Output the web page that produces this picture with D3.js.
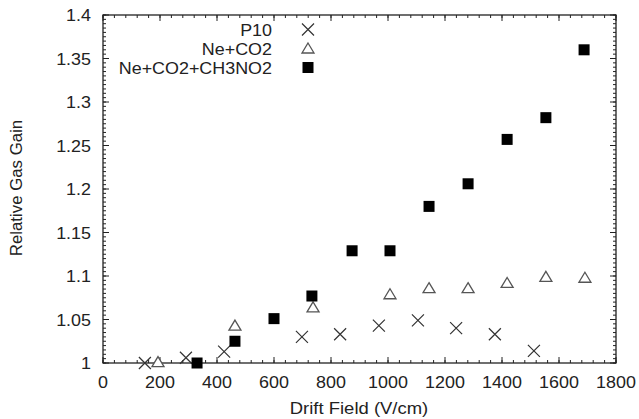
<!DOCTYPE html>
<html>
<head>
<meta charset="utf-8">
<script src="https://cdn.jsdelivr.net/npm/d3@7"></script>
<style>
  body { margin: 0; background: #fff; }
  svg text { font-family: "Liberation Sans", Arial, sans-serif; fill: #222; }
</style>
</head>
<body>
<svg width="639" height="419"></svg>
<script>
// data
var p10X = [147, 291, 425, 698, 832, 968, 1105, 1239, 1375, 1512];
var p10Y = [1.0, 1.006, 1.013, 1.030, 1.033, 1.043, 1.049, 1.040, 1.033, 1.014];
var neco2X = [193, 463, 737, 1007, 1144, 1281, 1418, 1554, 1691];
var neco2Y = [1.001, 1.043, 1.064, 1.079, 1.086, 1.086, 1.092, 1.099, 1.098];
var nitroX = [330, 463, 600, 733, 874, 1007, 1144, 1281, 1418, 1554, 1688];
var nitroY = [1.0, 1.025, 1.051, 1.077, 1.129, 1.129, 1.180, 1.206, 1.257, 1.282, 1.360];
var xTicks = [0, 200, 400, 600, 800, 1000, 1200, 1400, 1600, 1800];
var yTicks = [1, 1.05, 1.1, 1.15, 1.2, 1.25, 1.3, 1.35, 1.4];
var seriesNames = ["P10", "Ne+CO2", "Ne+CO2+CH3NO2"];

(function() {
  var svg = d3.select("svg");
  var left = 103, right = 616, top = 15, bottom = 363;
  var sx = 1.12; // the picture's text looks a bit wide

  var x = d3.scaleLinear().domain([0, 1800]).range([left, right]);
  var y = d3.scaleLinear().domain([1, 1.4]).range([bottom, top]);

  var g = svg.append("g");

  // minor ticks (inward, all four sides)
  var xMinor = d3.range(0, 1800.1, 40);
  var yMinor = d3.range(0, 81).map(function(i) { return 1 + i * 0.005; });

  function tickLines(vals, fn) {
    vals.forEach(function(v) {
      var t = fn(v);
      g.append("line").attr("x1", t[0]).attr("y1", t[1]).attr("x2", t[2]).attr("y2", t[3])
        .attr("stroke", "#222").attr("stroke-width", 1);
    });
  }
  tickLines(xMinor, function(v) { return [x(v), bottom, x(v), bottom - 3]; });
  tickLines(xMinor, function(v) { return [x(v), top, x(v), top + 3]; });
  tickLines(xTicks, function(v) { return [x(v), bottom, x(v), bottom - 6]; });
  tickLines(xTicks, function(v) { return [x(v), top, x(v), top + 6]; });
  tickLines(yMinor, function(v) { return [left, y(v), left + 3, y(v)]; });
  tickLines(yMinor, function(v) { return [right, y(v), right - 3, y(v)]; });
  tickLines(yTicks, function(v) { return [left, y(v), left + 6, y(v)]; });
  tickLines(yTicks, function(v) { return [right, y(v), right - 6, y(v)]; });

  g.append("rect").attr("x", left).attr("y", top)
    .attr("width", right - left).attr("height", bottom - top)
    .attr("fill", "none").attr("stroke", "#222").attr("stroke-width", 1.3);

  function label(sel, tx, ty, anchor, size, txt) {
    return sel.append("text")
      .attr("transform", "translate(" + tx + "," + ty + ") scale(" + sx + ",1)")
      .attr("text-anchor", anchor).attr("font-size", size).text(txt);
  }

  // tick labels
  xTicks.forEach(function(d) { label(g, x(d), bottom + 25, "middle", 16, d); });
  yTicks.forEach(function(d) { label(g, left - 12, y(d) + 6, "end", 16, d); });

  label(svg, 359, 414, "middle", 16.5, "Drift Field (V/cm)");
  svg.append("text").attr("transform", "translate(22,188) rotate(-90) scale(1.02,1.05)")
    .attr("text-anchor", "middle").attr("font-size", 16.5).text("Relative Gas Gain");

  // markers
  function cross(sel, cx, cy) {
    var s = 6;
    sel.append("path").attr("d", "M" + (cx - s) + "," + (cy - s) + "L" + (cx + s) + "," + (cy + s) +
      "M" + (cx - s) + "," + (cy + s) + "L" + (cx + s) + "," + (cy - s))
      .attr("stroke", "#333").attr("stroke-width", 1.2).attr("fill", "none");
  }
  function tri(sel, cx, cy) {
    sel.append("path").attr("d", "M" + cx + "," + (cy - 5.5) + "L" + (cx + 6) + "," + (cy + 4.5) +
      "L" + (cx - 6) + "," + (cy + 4.5) + "Z")
      .attr("stroke", "#555").attr("stroke-width", 1.3).attr("fill", "#fff");
  }
  function sq(sel, cx, cy) {
    sel.append("rect").attr("x", cx - 5.5).attr("y", cy - 5.5).attr("width", 11).attr("height", 11)
      .attr("fill", "#000");
  }

  var pts = svg.append("g");
  p10X.forEach(function(v, i) { cross(pts, x(v), y(p10Y[i])); });
  neco2X.forEach(function(v, i) { tri(pts, x(v), y(neco2Y[i])); });
  nitroX.forEach(function(v, i) { sq(pts, x(v), y(nitroY[i])); });

  // legend
  var markers = [cross, tri, sq];
  seriesNames.forEach(function(name, i) {
    var base = 36 + i * 19;
    label(svg, 272, base, "end", 16, name);
    markers[i](svg, 308, base - 6.5);
  });
})();
</script>
</body>
</html>
